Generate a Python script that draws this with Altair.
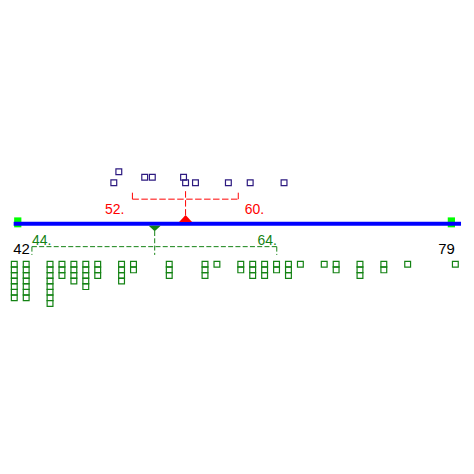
import altair as alt
import pandas as pd

# ---------------- data ----------------
axis_ends = [42, 79]
axis_labels = ["42", "79"]

# upper sample (purple squares above the axis)
upper_values = [50.35, 50.77, 52.94, 53.58, 56.20, 56.37, 57.20, 59.96, 61.79, 64.63]
upper_levels = [0, 2, 1, 1, 1, 0, 0, 0, 0, 0]
upper_q1, upper_med, upper_q3 = 51.91, 56.37, 60.79
upper_labels = ["52.", "60."]

# lower sample (green stacked squares below the axis)
lower_values = [42, 43, 45, 46, 47, 48, 49, 51, 52, 55, 58, 59,
                61, 62, 63, 64, 65, 66, 68, 69, 71, 73, 75, 79]
lower_counts = [7, 7, 8, 3, 4, 5, 3, 4, 2, 3, 3, 1,
                2, 3, 3, 2, 3, 1, 1, 2, 3, 2, 1, 1]
lower_q1, lower_med, lower_q3 = 43.48, 53.78, 64.02
lower_labels = ["44.", "64."]

# ---------------- tables ----------------
upper_df = pd.DataFrame({"v": upper_values, "level": upper_levels})
lower_df = pd.DataFrame(
    [{"v": v, "level": k} for v, c in zip(lower_values, lower_counts) for k in range(c)]
)
upper_stats = pd.DataFrame({"q1": [upper_q1], "med": [upper_med], "q3": [upper_q3],
                            "lo": [upper_labels[0]], "hi": [upper_labels[1]]})
lower_stats = pd.DataFrame({"q1": [lower_q1], "med": [lower_med], "q3": [lower_q3],
                            "lo": [lower_labels[0]], "hi": [lower_labels[1]]})
ends_df = pd.DataFrame({"v": axis_ends, "lab": axis_labels})

# ---------------- scales ----------------
XS = alt.Scale(domain=[42, 79], range=[4.3, 447.3])
YS = alt.Scale(domain=[-10, 10], range=[270.7, 160.7])


def X(field):
    return alt.X(field, type="quantitative", scale=XS, axis=None)


def Yf(field):
    return alt.Y(field, type="quantitative", scale=YS, axis=None)


def Yd(val):
    return alt.YDatum(val, type="quantitative", scale=YS, axis=None)


PURPLE = "#2d1a80"
GREEN = "#138213"
RED = "#ff0000"
BLUE = "#0000ff"
LIME = "#00ff00"
FONT = "Liberation Sans"

layers = []

# lime end markers
rect_shape = "M-0.727,-1 L0.727,-1 L0.727,1 L-0.727,1 Z"
ends = alt.Chart(ends_df)
layers.append(
    ends.transform_filter("datum.v == 42").mark_point(
        shape=rect_shape, filled=True, size=100, color=LIME, opacity=1, xOffset=3.5, yOffset=-1.4
    ).encode(x=X("v"), y=Yd(0))
)
layers.append(
    ends.transform_filter("datum.v == 79").mark_point(
        shape=rect_shape, filled=True, size=100, color=LIME, opacity=1, xOffset=-4, yOffset=-1.4
    ).encode(x=X("v"), y=Yd(0))
)

# blue axis line
layers.append(
    alt.Chart(pd.DataFrame({"a": [axis_ends[0]], "b": [axis_ends[1]]})).mark_rule(
        color=BLUE, strokeWidth=4, xOffset=-0.6, x2Offset=5.7
    ).encode(x=X("a"), x2=alt.X2("b"), y=Yd(0))
)

# axis end labels
layers.append(
    ends.transform_filter("datum.v == 42").mark_text(
        font=FONT, fontSize=15, color="black", align="left", baseline="alphabetic", dx=-1
    ).encode(x=X("v"), y=Yd(-5.5), text="lab:N")
)
layers.append(
    ends.transform_filter("datum.v == 79").mark_text(
        font=FONT, fontSize=15, color="black", align="right", baseline="alphabetic", dx=-0.5
    ).encode(x=X("v"), y=Yd(-5.5), text="lab:N")
)

# upper squares
layers.append(
    alt.Chart(upper_df).transform_calculate(y="7.5 + datum.level").mark_point(
        shape="square", filled=False, size=34, strokeWidth=1.2, color=PURPLE, opacity=1
    ).encode(x=X("v"), y=Yf("y"))
)

# lower squares
layers.append(
    alt.Chart(lower_df).transform_calculate(y="-(7.4 + datum.level * 1.02)").mark_point(
        shape="square", filled=False, size=34, strokeWidth=1.2, color=GREEN, opacity=1
    ).encode(x=X("v"), y=Yf("y"))
)


def box(stats, color, dash, y_line, y_tick, y_m0, y_m1, lab_y, lo_dx, hi_dx, lo_align, hi_align):
    b = alt.Chart(stats)
    out = [
        b.mark_rule(color=color, strokeDash=dash, strokeWidth=1).encode(
            x=X("q1"), x2=alt.X2("q3"), y=Yd(y_line)),
        b.mark_rule(color=color, strokeDash=dash, strokeWidth=1).encode(
            x=X("q1"), y=Yd(y_line), y2=alt.Y2Datum(y_tick)),
        b.mark_rule(color=color, strokeDash=dash, strokeWidth=1).encode(
            x=X("q3"), y=Yd(y_line), y2=alt.Y2Datum(y_tick)),
        b.mark_rule(color=color, strokeDash=dash, strokeWidth=1).encode(
            x=X("med"), y=Yd(y_m0), y2=alt.Y2Datum(y_m1)),
        b.mark_text(font=FONT, fontSize=14, color=color, align=lo_align,
                    baseline="alphabetic", dx=lo_dx).encode(x=X("q1"), y=Yd(lab_y), text="lo:N"),
        b.mark_text(font=FONT, fontSize=14, color=color, align=hi_align,
                    baseline="alphabetic", dx=hi_dx).encode(x=X("q3"), y=Yd(lab_y), text="hi:N"),
    ]
    return out


layers += box(upper_stats, RED, [6.5, 2.5], 4.49, 5.95, 5.95, 1.58, 1.72, -8, 6.5, "right", "left")
layers += box(lower_stats, GREEN, [5, 2.3], -4.18, -5.69, -1.33, -5.69, -3.96, 0, 0, "left", "right")

# median triangles
up_tri = "M-1,0.54 L0,-0.54 L1,0.54 Z"
down_tri = "M-1,-0.46 L1,-0.46 L0,0.46 Z"
layers.append(
    alt.Chart(upper_stats).mark_point(
        shape=up_tri, filled=True, size=169, color=RED, opacity=1
    ).encode(x=X("med"), y=Yd(0.96))
)
layers.append(
    alt.Chart(lower_stats).mark_point(
        shape=down_tri, filled=True, size=144, color=GREEN, opacity=1
    ).encode(x=X("med"), y=Yd(-0.85))
)

chart = alt.layer(*layers).properties(
    width=458, height=458, padding=0, background="white"
).configure_view(stroke=None)

chart.save("out.html", embed_options={"renderer": "svg", "actions": False})
